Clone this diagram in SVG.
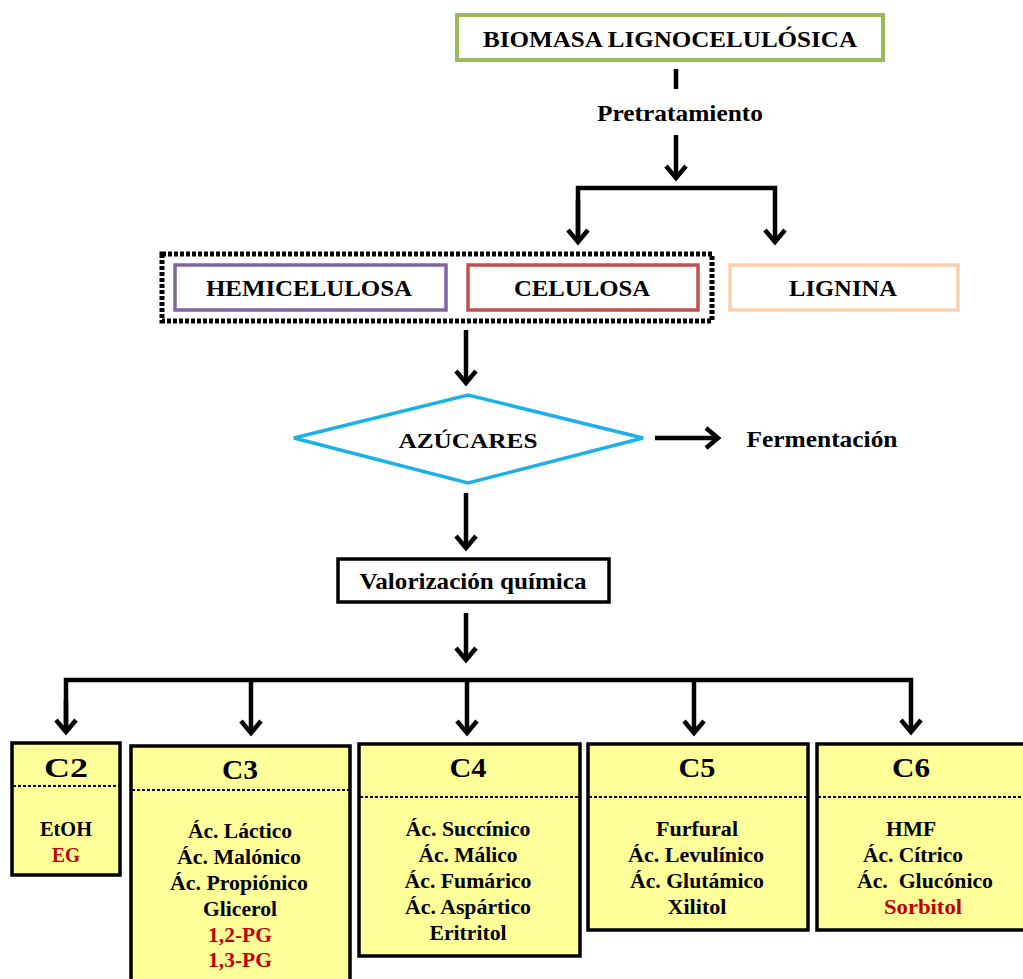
<svg xmlns="http://www.w3.org/2000/svg" width="1023" height="979" viewBox="0 0 1023 979">
<style>
text{font-family:"Liberation Serif","Times New Roman",serif;font-weight:bold;fill:#000;text-anchor:middle}
.lbl{font-size:24px}
.cl{font-size:27px}
.it{font-size:20.5px}
.red{fill:#C00000}
.conn{fill:none;stroke:#000;stroke-width:4.5}
.ybox{fill:#FFFF99;stroke:#000;stroke-width:3.5}
.sep{stroke:#000;stroke-width:2;stroke-dasharray:3 2}
</style>
<defs>
<marker id="ah" markerUnits="userSpaceOnUse" markerWidth="26" markerHeight="26" viewBox="0 0 26 26" refX="21" refY="13" orient="auto">
<path d="M9,3 L21,13 L9,23" fill="none" stroke="#000" stroke-width="4.5"/>
</marker>
</defs>
<rect width="1023" height="979" fill="#fff"/>

<g id="connectors">
<line class="conn" x1="676" y1="69" x2="676" y2="89"/>
<line class="conn" x1="676" y1="135" x2="676" y2="178" marker-end="url(#ah)"/>
<path class="conn" d="M578,242 V188 H775 V242" marker-end="url(#ah)"/>
<line class="conn" x1="578" y1="200" x2="578" y2="242" marker-end="url(#ah)"/>
<line class="conn" x1="466" y1="330" x2="466" y2="383" marker-end="url(#ah)"/>
<line class="conn" x1="655" y1="438" x2="718" y2="438" marker-end="url(#ah)"/>
<line class="conn" x1="466" y1="493" x2="466" y2="548" marker-end="url(#ah)"/>
<line class="conn" x1="466" y1="613" x2="466" y2="660" marker-end="url(#ah)"/>
<path class="conn" d="M66,732 V680 H911 V732" marker-end="url(#ah)"/>
<line class="conn" x1="66" y1="700" x2="66" y2="732" marker-end="url(#ah)"/>
<line class="conn" x1="251" y1="680" x2="251" y2="733" marker-end="url(#ah)"/>
<line class="conn" x1="467" y1="680" x2="467" y2="733" marker-end="url(#ah)"/>
<line class="conn" x1="694" y1="680" x2="694" y2="733" marker-end="url(#ah)"/>
</g>

<g id="biomasa">
<rect x="457" y="15" width="426" height="45" fill="#fff" stroke="#9BBB59" stroke-width="4"/>
<text class="lbl" x="670" y="47" textLength="374" lengthAdjust="spacingAndGlyphs">BIOMASA LIGNOCELULÓSICA</text>
</g>
<g id="pretratamiento">
<text class="lbl" x="680" y="121" textLength="166" lengthAdjust="spacingAndGlyphs">Pretratamiento</text>
</g>

<g id="grupo">
<rect x="162" y="254" width="550" height="67" fill="none" stroke="#000" stroke-width="5" stroke-dasharray="4 2"/>
</g>
<g id="hemicelulosa">
<rect x="175" y="265" width="271" height="45" fill="#fff" stroke="#8064A2" stroke-width="3.5"/>
<text class="lbl" x="309" y="296" textLength="206" lengthAdjust="spacingAndGlyphs">HEMICELULOSA</text>
</g>
<g id="celulosa">
<rect x="468" y="265" width="230" height="45" fill="#fff" stroke="#C0504D" stroke-width="3.5"/>
<text class="lbl" x="582" y="296" textLength="136" lengthAdjust="spacingAndGlyphs">CELULOSA</text>
</g>
<g id="lignina">
<rect x="730" y="265" width="228" height="45" fill="#fff" stroke="#FBD0AA" stroke-width="3.5"/>
<text class="lbl" x="843" y="296" textLength="108" lengthAdjust="spacingAndGlyphs">LIGNINA</text>
</g>

<g id="azucares">
<polygon points="294,438 468,395 643,438 468,483" fill="#fff" stroke="#1CB0EA" stroke-width="3.5"/>
<text x="468" y="448" style="font-size:22px" textLength="139" lengthAdjust="spacingAndGlyphs">AZÚCARES</text>
</g>
<g id="fermentacion">
<text class="lbl" x="822" y="447" textLength="151" lengthAdjust="spacingAndGlyphs">Fermentación</text>
</g>

<g id="valorizacion">
<rect x="338" y="559" width="271" height="43" fill="#fff" stroke="#000" stroke-width="3.5"/>
<text class="lbl" x="473" y="589" textLength="227" lengthAdjust="spacingAndGlyphs">Valorización química</text>
</g>

<g id="c2">
<rect class="ybox" x="12" y="743" width="108" height="132"/>
<line class="sep" x1="13" y1="786" x2="119" y2="786"/>
<text class="cl" x="66" y="777" textLength="44" lengthAdjust="spacingAndGlyphs">C2</text>
<text class="it" x="66" y="836" textLength="52" lengthAdjust="spacingAndGlyphs">EtOH</text>
<text class="it red" x="66" y="862" textLength="28" lengthAdjust="spacingAndGlyphs">EG</text>
</g>

<g id="c3">
<rect class="ybox" x="131" y="746" width="219" height="250"/>
<line class="sep" x1="132" y1="790" x2="349" y2="790"/>
<text class="cl" x="240" y="779" textLength="36" lengthAdjust="spacingAndGlyphs">C3</text>
<text class="it" x="240" y="838" textLength="104" lengthAdjust="spacingAndGlyphs">Ác. Láctico</text>
<text class="it" x="239" y="864" textLength="124" lengthAdjust="spacingAndGlyphs">Ác. Malónico</text>
<text class="it" x="239" y="890" textLength="138" lengthAdjust="spacingAndGlyphs">Ác. Propiónico</text>
<text class="it" x="240" y="916" textLength="74" lengthAdjust="spacingAndGlyphs">Glicerol</text>
<text class="it red" x="240" y="942" textLength="64" lengthAdjust="spacingAndGlyphs">1,2-PG</text>
<text class="it red" x="240" y="967" textLength="64" lengthAdjust="spacingAndGlyphs">1,3-PG</text>
</g>

<g id="c4">
<rect class="ybox" x="359" y="744" width="221" height="212"/>
<line class="sep" x1="360" y1="797" x2="579" y2="797"/>
<text class="cl" x="468" y="777" textLength="37" lengthAdjust="spacingAndGlyphs">C4</text>
<text class="it" x="468" y="836" textLength="125" lengthAdjust="spacingAndGlyphs">Ác. Succínico</text>
<text class="it" x="468" y="862" textLength="99" lengthAdjust="spacingAndGlyphs">Ác. Málico</text>
<text class="it" x="468" y="888" textLength="127" lengthAdjust="spacingAndGlyphs">Ác. Fumárico</text>
<text class="it" x="468" y="914" textLength="126" lengthAdjust="spacingAndGlyphs">Ác. Aspártico</text>
<text class="it" x="468" y="940" textLength="77" lengthAdjust="spacingAndGlyphs">Eritritol</text>
</g>

<g id="c5">
<rect class="ybox" x="588" y="744" width="220" height="186"/>
<line class="sep" x1="589" y1="797" x2="807" y2="797"/>
<text class="cl" x="697" y="777" textLength="37" lengthAdjust="spacingAndGlyphs">C5</text>
<text class="it" x="697" y="836" textLength="82" lengthAdjust="spacingAndGlyphs">Furfural</text>
<text class="it" x="696" y="862" textLength="136" lengthAdjust="spacingAndGlyphs">Ác. Levulínico</text>
<text class="it" x="697" y="888" textLength="134" lengthAdjust="spacingAndGlyphs">Ác. Glutámico</text>
<text class="it" x="697" y="914" textLength="59" lengthAdjust="spacingAndGlyphs">Xilitol</text>
</g>

<g id="c6">
<rect class="ybox" x="817" y="744" width="215" height="186"/>
<line class="sep" x1="818" y1="797" x2="1023" y2="797"/>
<text class="cl" x="911" y="777" textLength="38" lengthAdjust="spacingAndGlyphs">C6</text>
<text class="it" x="911" y="836" textLength="50" lengthAdjust="spacingAndGlyphs">HMF</text>
<text class="it" x="913" y="862" textLength="100" lengthAdjust="spacingAndGlyphs">Ác. Cítrico</text>
<text class="it" x="925" y="888" textLength="136" lengthAdjust="spacingAndGlyphs" xml:space="preserve">Ác.  Glucónico</text>
<text class="it red" x="923" y="914" textLength="78" lengthAdjust="spacingAndGlyphs">Sorbitol</text>
</g>
</svg>
